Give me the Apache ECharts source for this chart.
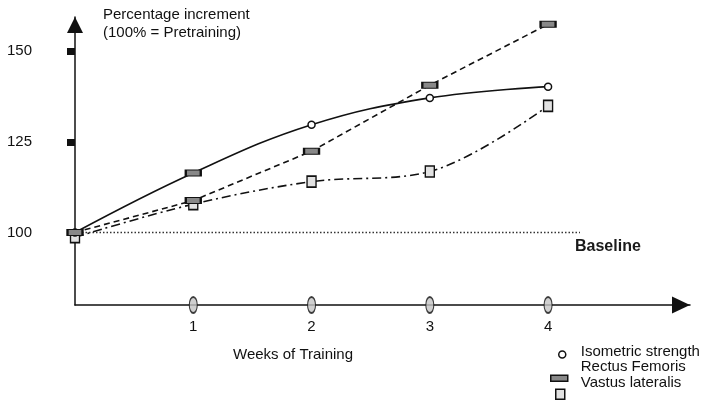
<!DOCTYPE html>
<html>
<head>
<meta charset="utf-8">
<script src="https://cdn.jsdelivr.net/npm/echarts@6/dist/echarts.min.js"></script>
<style>
html,body{margin:0;padding:0;background:#fff;}
#c{width:705px;height:400px;}
</style>
</head>
<body>
<div id="c"></div>
<script>
// ---- data ----
const weeks = [0, 1, 2, 3, 4];
const isometric = [100, 116.4, 129.7, 137.1, 140.2];
const rectus = [100, 108.8, 122.4, 140.6, 157.4];
const vastus = [98.7, 107.8, 114.0, 116.8, 134.9];
const weekTicks = [1, 2, 3, 4];
const yTicks = [100, 125, 150];
const yTickMarks = [125, 150];
const baselineValue = 100;
const baselineSpan = [0, 4.27];
const seriesNames = ['Isometric strength', 'Rectus Femoris', 'Vastus lateralis'];

const FONT = '"Liberation Sans", Arial, sans-serif';
const pairs = (xs, ys) => xs.map((x, i) => [x, ys[i]]);

const circleStyle = { color: '#fff', borderColor: '#111', borderWidth: 1.5 };
const rectStyle = { color: '#888', borderColor: '#111', borderWidth: 1.5 };
const squareStyle = { color: '#e2e2e2', borderColor: '#111', borderWidth: 1.5 };

const isoData = pairs(weeks, isometric).map((p, i) =>
  i === 1 ? { value: p, symbol: 'rect', symbolSize: [15, 6], itemStyle: rectStyle } : p);

const chart = echarts.init(document.getElementById('c'), null, { renderer: 'canvas' });

function legendFor(name, icon, w, h, left, top, style) {
  return {
    orient: 'vertical', left: left, top: top, padding: 0,
    itemWidth: w, itemHeight: h, symbolKeepAspect: true,
    selectedMode: false,
    textStyle: { fontFamily: FONT, fontSize: 15, color: '#111' },
    data: [{ name: name, icon: icon, itemStyle: style }]
  };
}

chart.setOption({
  animation: false,
  backgroundColor: '#fff',
  grid: { left: 75, right: 15, top: 17, bottom: 95 },
  xAxis: {
    type: 'value', min: 0, max: 5.2,
    axisLine: { show: true, symbol: ['none', 'triangle'], symbolSize: [17, 18], symbolOffset: [0, -9],
      lineStyle: { color: '#111', width: 1.5 } },
    axisTick: { show: false },
    splitLine: { show: false },
    axisLabel: { customValues: weekTicks, margin: 14, fontFamily: FONT, fontSize: 15, color: '#111' }
  },
  yAxis: {
    type: 'value', min: 80, max: 159.4,
    axisLine: { show: true, symbol: ['none', 'triangle'], symbolSize: [16, 16], symbolOffset: [0, -8],
      lineStyle: { color: '#111', width: 1.5 } },
    axisTick: { show: true, customValues: yTickMarks, length: 8, lineStyle: { color: '#111', width: 7 } },
    splitLine: { show: false },
    axisLabel: { customValues: yTicks, margin: 43, fontFamily: FONT, fontSize: 15, color: '#111' }
  },
  legend: [
    legendFor(seriesNames[0], 'path://M0,0M0,9.5a3.5,3.5 0 1,0 7,0a3.5,3.5 0 1,0 -7,0z', 27, 13, 558, 344, circleStyle),
    legendFor(seriesNames[1], 'path://M0,0M0,22h17v6h-17z', 33, 28, 550, 352.5, rectStyle),
    legendFor(seriesNames[2], 'path://M0,0M0,22h9v10h-9z', 31, 32, 555, 366.5, squareStyle)
  ],
  graphic: [
    { type: 'text', left: 103, top: 6,
      style: { text: 'Percentage increment\n(100% = Pretraining)', font: '15px ' + FONT, fill: '#111', lineHeight: 18 } },
    { type: 'text', left: 233, top: 347,
      style: { text: 'Weeks of Training', font: '15px ' + FONT, fill: '#111' } },
    { type: 'text', left: 575, top: 239,
      style: { text: 'Baseline', font: 'bold 16px ' + FONT, fill: '#1a1a1a' } }
  ],
  series: [
    {
      name: 'baseline', type: 'line', silent: true, symbol: 'none',
      data: baselineSpan.map(x => [x, baselineValue]),
      lineStyle: { type: [1.5, 2], color: '#333', width: 1.5 }, z: 1
    },
    {
      name: 'ticks', type: 'scatter', silent: true, clip: false,
      data: weekTicks.map(x => [x, 80]),
      symbol: 'path://M0,1a1,1 0 1,0 2,0a1,1 0 1,0 -2,0', symbolSize: [8, 16],
      itemStyle: { color: '#c4c4c4', borderColor: '#111', borderWidth: 1.5 }, z: 5
    },
    {
      name: seriesNames[2], type: 'line', smooth: 0.35, clip: false,
      data: pairs(weeks, vastus),
      symbol: 'rect', symbolSize: [9, 11],
      lineStyle: { color: '#111', width: 1.6, type: [9, 4, 2, 4] },
      itemStyle: squareStyle, z: 3
    },
    {
      name: seriesNames[1], type: 'line', smooth: false, clip: false,
      data: pairs(weeks, rectus),
      symbol: 'rect', symbolSize: [15, 6],
      lineStyle: { color: '#111', width: 1.6, type: [6, 4] },
      itemStyle: rectStyle, z: 4
    },
    {
      name: seriesNames[0], type: 'line', smooth: 0.4, clip: false,
      data: isoData,
      symbol: 'circle', symbolSize: 7,
      lineStyle: { color: '#111', width: 1.6 },
      itemStyle: circleStyle, z: 3
    }
  ]
});
</script>
</body>
</html>
